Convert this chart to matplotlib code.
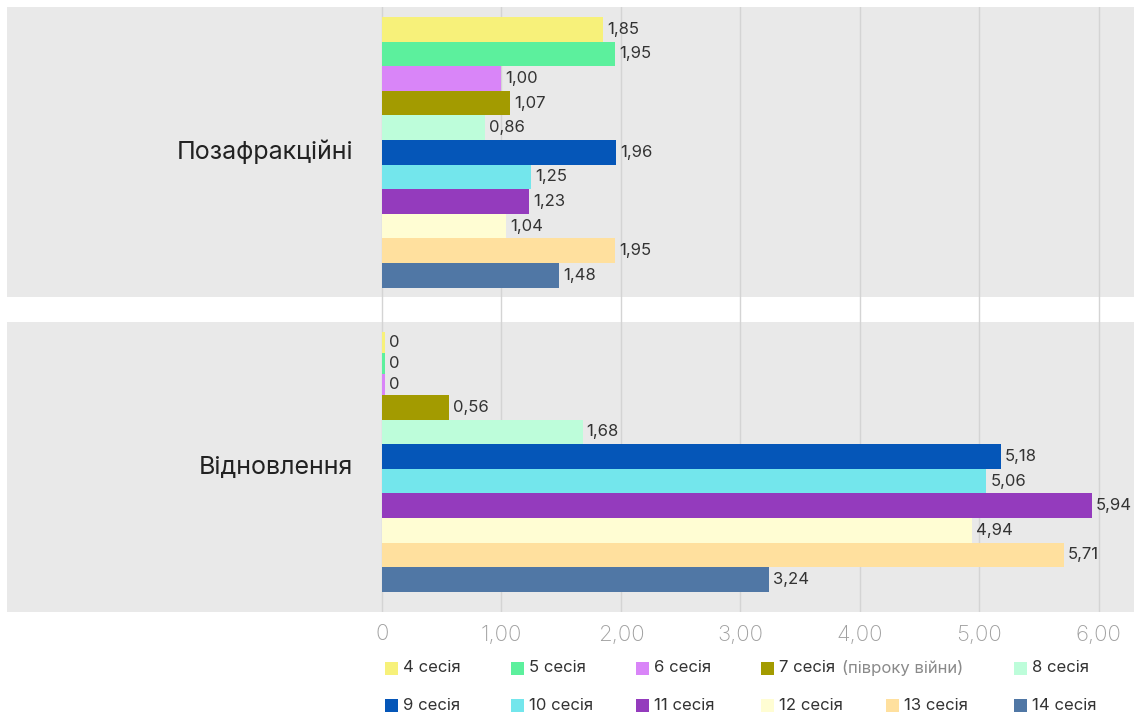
import matplotlib.pyplot as plt
from matplotlib.patches import Rectangle

plt.rcParams['font.family'] = ['Inter', 'DejaVu Sans']

categories = ['Позафракційні', 'Відновлення']
sessions = ['4 сесія', '5 сесія', '6 сесія', '7 сесія', '8 сесія', '9 сесія',
            '10 сесія', '11 сесія', '12 сесія', '13 сесія', '14 сесія']
session_notes = {'7 сесія': '(півроку війни)'}
colors = ['#f7f17a', '#5cf09d', '#d985f8', '#a39b00', '#bdfdda', '#0556b8',
          '#73e6ec', '#943bbd', '#fffdd3', '#ffe09e', '#5077a5']

pozafraktsiini = [1.85, 1.95, 1.00, 1.07, 0.86, 1.96, 1.25, 1.23, 1.04, 1.95, 1.48]
vidnovlennia = [0, 0, 0, 0.56, 1.68, 5.18, 5.06, 5.94, 4.94, 5.71, 3.24]
values = [pozafraktsiini, vidnovlennia]

xticks = [0, 1, 2, 3, 4, 5, 6]
xtick_labels = ['0', '1,00', '2,00', '3,00', '4,00', '5,00', '6,00']

W, H = 1134, 718
fig = plt.figure(figsize=(W / 100, H / 100), dpi=100)

# axes covers the grey bands (px 7..1134 x 7..612)
ax = fig.add_axes([7 / W, (H - 612) / H, (W - 7) / W, 605 / H])
px_per_unit = 119.45
ax.set_xlim(-375 / px_per_unit, 752 / px_per_unit)
half_band = 145 / 315
ax.set_ylim(1 + half_band, -half_band)

bar_h = 24.6 / 315
zero_h = 21 / 315      # zero bars are drawn a bit thinner in the original
group_pad = 10 / 315
n = len(sessions)
for i, cat in enumerate(categories):
    ax.axhspan(i - half_band, i + half_band, color='#e9e9e9', zorder=0, lw=0)
    top = i - half_band + group_pad
    for j in range(n):
        v = values[i][j]
        h = bar_h if v > 0 else zero_h
        y = top + h / 2
        top += h
        w = v if v > 0 else 0.025  # keep zero bars visible as a sliver
        ax.barh(y, w, height=h, color=colors[j], zorder=3, lw=0)
        lbl = '0' if v == 0 else f'{v:.2f}'.replace('.', ',')
        ax.annotate(lbl, (w, y), xytext=(4, 0), textcoords='offset pixels',
                    ha='left', va='center', fontsize=12, color='#333333', zorder=4)
    ax.text(-29 / px_per_unit, i, cat, ha='right', va='center',
            fontsize=18, color='#222222')

ax.set_xticks(xticks)
ax.set_xticklabels(xtick_labels)
ax.set_yticks([])
ax.tick_params(axis='x', length=0, pad=9, labelsize=16, labelcolor='#a0a0a0')
for lab in ax.get_xticklabels():
    lab.set_fontweight('light')
ax.grid(axis='x', color='#d4d4d4', lw=1, zorder=1)
ax.set_axisbelow(True)
for s in ax.spines.values():
    s.set_visible(False)

# legend, laid out in two rows like the reference
legend_x = [385, 511, 636, 761, 1014, 385, 511, 636, 761, 886, 1014]
legend_y = [668] * 5 + [705] * 6
for j, name in enumerate(sessions):
    x0, yc = legend_x[j], legend_y[j]
    fig.add_artist(Rectangle((x0 / W, 1 - (yc + 6.5) / H), 13 / W, 13 / H,
                             transform=fig.transFigure, color=colors[j], lw=0))
    fig.text((x0 + 18) / W, 1 - yc / H, name, ha='left', va='center',
             fontsize=12, color='#333333')
    if name in session_notes:
        fig.text((x0 + 81) / W, 1 - yc / H, session_notes[name], ha='left',
                 va='center', fontsize=12, color='#8a8a8a')

fig.savefig('out.png', dpi=100)
